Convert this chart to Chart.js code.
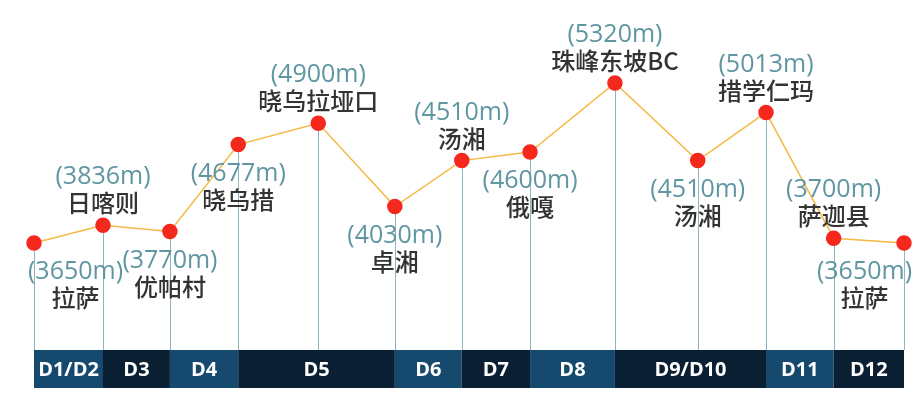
<!DOCTYPE html>
<html>
<head>
<meta charset="utf-8">
<script src="https://cdn.jsdelivr.net/npm/chart.js@4/dist/chart.umd.min.js"></script>
<style>
html,body{margin:0;padding:0;background:#fff;}
#wrap{width:923px;height:396px;position:relative;}
</style>
</head>
<body>
<div id="wrap"><canvas id="c" width="923" height="396"></canvas></div>
<script>
// Route stops (in order)
const stops = ['拉萨','日喀则','优帕村','晓乌措','晓乌拉垭口','卓湘','汤湘','俄嘎','珠峰东坡BC','汤湘','措学仁玛','萨迦县','拉萨'];
// Altitude of each stop (m)
const altitudes = [3650, 3836, 3770, 4677, 4900, 4030, 4510, 4600, 5320, 4510, 5013, 3700, 3650];
// Route progress position of each stop
const progress = [0, 1.0, 1.97, 2.96, 4.12, 5.23, 6.20, 7.19, 8.42, 9.62, 10.61, 11.59, 12.61];
// Label placement relative to the point
const labelSide = ['below','above','below','below','above','below','above','below','above','below','above','above','below'];
// Day bands: label, start stop index, end stop index
const dayLabels = ['D1/D2','D3','D4','D5','D6','D7','D8','D9/D10','D11','D12'];
const dayStart  = [0, 1, 2, 3, 5, 6, 7, 8, 10, 11];
const dayEnd    = [1, 2, 3, 5, 6, 7, 8, 10, 11, 12];

const data = progress.map((p, i) => ({x: p, y: altitudes[i]}));

const overlay = {
  id: 'overlay',
  beforeDatasetsDraw(chart) {
    const ctx = chart.ctx;
    const xs = chart.scales.x;
    const meta = chart.getDatasetMeta(0);
    const bandTop = 350, bandBottom = 388;
    // vertical drop lines
    ctx.save();
    ctx.strokeStyle = '#8fb4c2';
    ctx.lineWidth = 1;
    meta.data.forEach(pt => {
      const x = Math.round(pt.x) + 0.5;
      ctx.beginPath();
      ctx.moveTo(x, pt.y);
      ctx.lineTo(x, bandTop);
      ctx.stroke();
    });
    // day bands
    dayLabels.forEach((lab, i) => {
      const x0 = xs.getPixelForValue(progress[dayStart[i]]);
      const x1 = xs.getPixelForValue(progress[dayEnd[i]]);
      ctx.fillStyle = (i % 2 === 0) ? '#154a6e' : '#0a1f31';
      ctx.fillRect(x0, bandTop, x1 - x0, bandBottom - bandTop);
      ctx.fillStyle = '#ffffff';
      ctx.font = 'bold 20px "Open Sans", "Noto Sans", sans-serif';
      ctx.textAlign = 'center';
      ctx.textBaseline = 'middle';
      ctx.fillText(lab, (x0 + x1) / 2, (bandTop + bandBottom) / 2 + 1);
    });
    ctx.restore();
  },
  afterDatasetsDraw(chart) {
    const ctx = chart.ctx;
    const meta = chart.getDatasetMeta(0);
    ctx.save();
    ctx.textAlign = 'center';
    ctx.textBaseline = 'middle';
    const elevFont = '25px "Open Sans", "Noto Sans", sans-serif';
    const nameFont = '500 24px "Noto Sans CJK SC", sans-serif';
    meta.data.forEach((pt, i) => {
      const elevText = '(' + altitudes[i] + 'm)';
      ctx.font = elevFont;
      const w = ctx.measureText(elevText).width;
      let cx = pt.x;
      const minX = 28 + w / 2, maxX = 912 - w / 2;
      if (cx < minX) cx = minX;
      if (cx > maxX) cx = maxX;
      const below = labelSide[i] === 'below';
      const yElev = below ? pt.y + 29 : pt.y - 48;
      const yName = below ? pt.y + 55 : pt.y - 22;
      ctx.fillStyle = '#5f96a2';
      ctx.fillText(elevText, cx, yElev);
      ctx.font = nameFont;
      ctx.fillStyle = '#333333';
      ctx.fillText(stops[i], cx, yName);
    });
    ctx.restore();
  }
};

new Chart(document.getElementById('c'), {
  type: 'line',
  data: {
    datasets: [{
      data: data,
      borderColor: '#f5b843',
      borderWidth: 1.5,
      pointBackgroundColor: '#f5281e',
      pointBorderColor: '#f5281e',
      pointRadius: 7,
      pointHoverRadius: 7,
      tension: 0,
      clip: false
    }]
  },
  options: {
    responsive: false,
    animation: false,
    events: [],
    layout: {padding: {left: 34, right: 19, top: 83, bottom: 153}},
    plugins: {legend: {display: false}, tooltip: {enabled: false}},
    scales: {
      x: {type: 'linear', display: false, min: progress[0], max: progress[progress.length - 1]},
      y: {type: 'linear', display: false, min: 3650, max: 5320}
    }
  },
  plugins: [overlay]
});
</script>
</body>
</html>
